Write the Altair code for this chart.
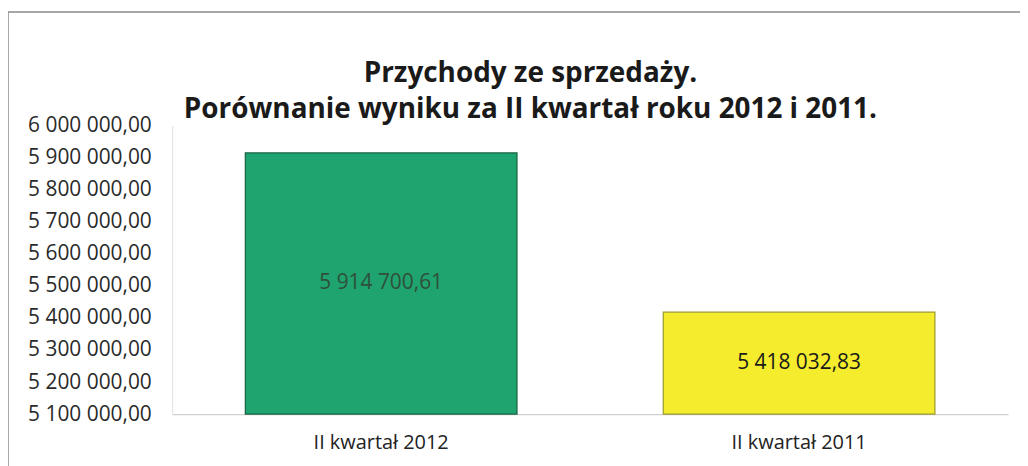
import altair as alt
import pandas as pd

categories = ["II kwartał 2012", "II kwartał 2011"]
values = [5914700.61, 5418032.83]
bar_colors = ["#1fa46f", "#f5ec2e"]
bar_strokes = ["#16613f", "#9a9a2a"]
label_colors = ["#2f4f3a", "#1a1a1a"]
y_ticks = [5100000, 5200000, 5300000, 5400000, 5500000, 5600000,
           5700000, 5800000, 5900000, 6000000]
y_min, y_max = 5100000, 6000000
title_lines = ["Przychody ze sprzedaży.",
               "Porównanie wyniku za II kwartał roku 2012 i 2011."]

df = pd.DataFrame({
    "kategoria": categories,
    "wartosc": values,
    "kolor": bar_colors,
    "obrys": bar_strokes,
    "kolor_tekstu": label_colors,
})

FONT = "Open Sans"

base = alt.Chart(df).transform_calculate(
    baza=str(y_min),
    srodek=f"(datum.wartosc + {y_min}) / 2",
)

y_scale = alt.Scale(domain=[y_min, y_max], zero=False, nice=False)
x_scale = alt.Scale(paddingInner=0.35, paddingOuter=0.175)

x_axis = alt.Axis(
    labelAngle=0, labelFont=FONT, labelFontSize=20,
    labelColor="#222222", labelPadding=19, ticks=False,
    domainColor="#d0d0d0", domainWidth=1.5, grid=False,
)
y_axis = alt.Axis(
    values=y_ticks, format=",.2f", labelFont=FONT, labelFontSize=21,
    labelColor="#2a2a2a", labelPadding=21, ticks=False, grid=False,
    domainColor="#e0e0e0", domainWidth=1, labelOverlap=False,
    labelFlush=False, labelBound=False,
)

bars = base.mark_bar(strokeWidth=1.2).encode(
    x=alt.X("kategoria:N", sort=categories, title=None, scale=x_scale,
            axis=x_axis),
    y=alt.Y("wartosc:Q", scale=y_scale, title=None, axis=y_axis),
    y2=alt.Y2("baza:Q"),
    color=alt.Color("kolor:N", scale=None, legend=None),
    stroke=alt.Stroke("obrys:N", scale=None, legend=None),
)

labels = base.mark_text(font=FONT, fontSize=21, align="center",
                        baseline="middle").encode(
    x=alt.X("kategoria:N", sort=categories, title=None, scale=x_scale,
            axis=x_axis),
    y=alt.Y("srodek:Q", scale=y_scale, title=None, axis=y_axis),
    text=alt.Text("wartosc:Q", format=",.2f"),
    color=alt.Color("kolor_tekstu:N", scale=None, legend=None),
)

frame_src = alt.Chart(alt.Data(values=[{"a": 1}]))
frame_top = frame_src.mark_rule(color="#8a8a8a", strokeWidth=1.5).encode(
    x=alt.value(-165), x2=alt.value(860), y=alt.value(-114)
)
frame_left = frame_src.mark_rule(color="#8a8a8a", strokeWidth=1.5).encode(
    x=alt.value(-165), y=alt.value(-114), y2=alt.value(345)
)

chart = alt.layer(bars, labels, frame_top, frame_left).properties(
    width=840,
    height=290,
    title=alt.TitleParams(
        text=title_lines, font=FONT, fontSize=28, fontWeight="bold",
        color="#1a1a1a", anchor="middle", dx=-60, dy=123, offset=10,
        lineHeight=36,
    ),
    padding={"left": 165, "top": 117, "right": 12, "bottom": 51},
    autosize=alt.AutoSizeParams(type="none"),
).configure(
    locale={"number": {"decimal": ",", "thousands": "\u00a0",
                       "grouping": [3], "currency": ["", " zł"]}},
).configure_view(stroke=None)

chart.save("out.html", embed_options={"renderer": "svg", "actions": False})
